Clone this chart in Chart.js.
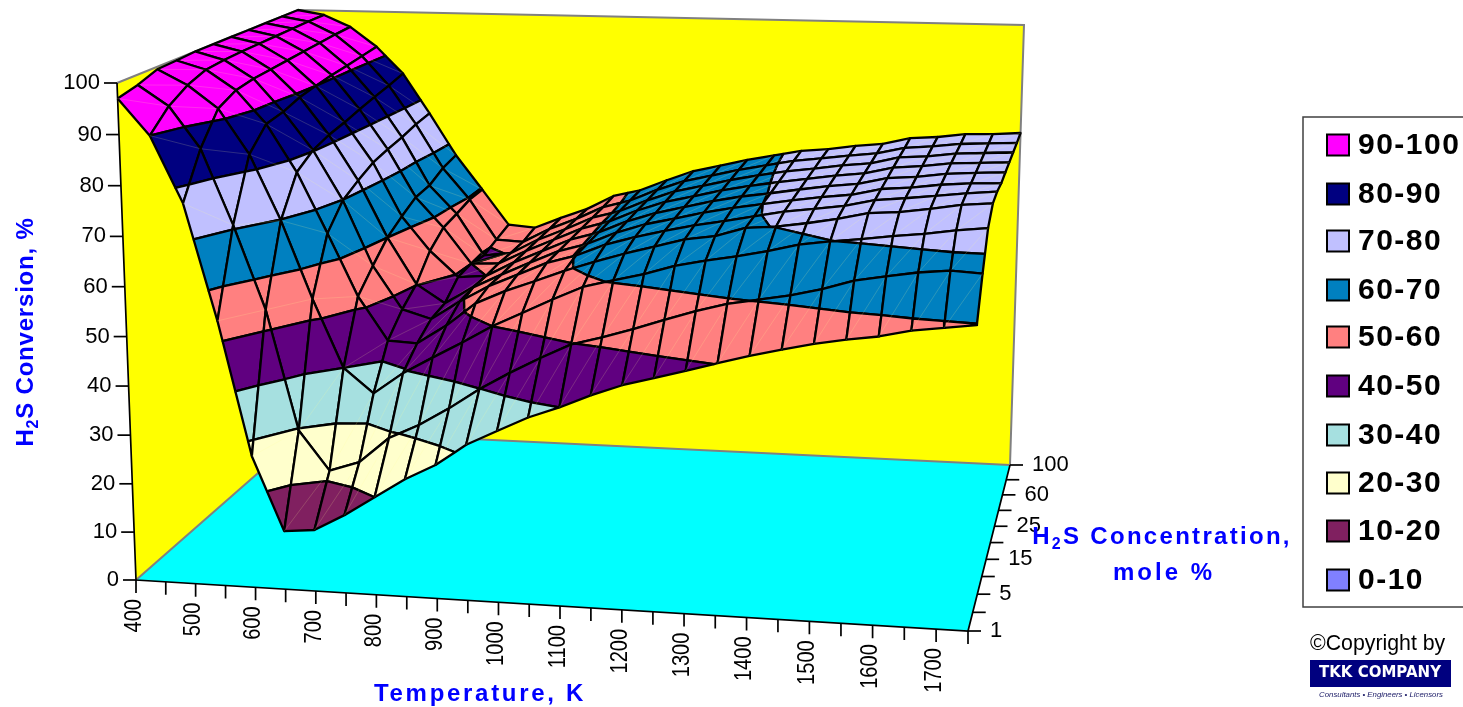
<!DOCTYPE html>
<html>
<head>
<meta charset="utf-8">
<title>H2S Conversion</title>
<script src="https://cdn.jsdelivr.net/npm/chart.js@4"></script>
<style>
  html, body { margin: 0; background: #fff; }
  canvas { display: block; }
</style>
</head>
<body>
<canvas id="surface-chart" width="1463" height="707"></canvas>
<script>
// category axes
const temperatures = [400,450,500,550,600,650,700,750,800,850,900,950,1000,1050,1100,1150,1200,1250,1300,1350,1400,1450,1500,1550,1600,1650,1700,1750];
const concentrations = [1,3,5,10,15,20,25,40,60,80,100];
const conversionTicks = [0,10,20,30,40,50,60,70,80,90,100];

// H2S conversion (%) at each temperature, one list per concentration
const conc1 = [97,90,77,54,27,12,12.6,16,20,24,27.2,31.6,34.7,37.7,40,42.7,45,46.7,48.4,50.2,51.9,53.4,54.8,55.9,56.8,58.2,59,59.8];
const conc3 = [98,94,85.8,70.8,54,29.6,21.6,23.7,29,32,35.7,39.9,43.5,46.8,49.8,51.5,53.4,55.5,57.5,59.2,60.3,61.4,62.9,64.8,65.9,66.9,67.5,67.2];
const conc5 = [99.5,96.5,92,83,69.8,54,40,35,39.5,43,46.4,50,53,56,58.8,60.4,61.9,63.8,65.1,66.2,67.5,69,69.9,70.6,71.4,72.1,73,73.7];
const conc10 = [99.7,98,94,87.3,77.6,65.2,52.3,43.3,43,47,51.9,54.7,57,59.4,61.5,63.4,65.1,66.8,67.7,69.6,70.1,71,72.1,73.5,73.9,74.8,75.8,76.3];
const conc15 = [100,98.4,94.7,88,80.2,69.9,56.3,47.3,45.5,49.5,53,55.7,58.4,60.2,62.7,64.5,66,67.4,68.5,69.7,70.9,71.7,72.5,73.9,74.5,75.2,75.9,76.5];
const conc20 = [100,98.6,95,89.3,81.5,72,60,50.2,46.3,50,53,55.8,58.5,60.3,62.9,64.9,66.3,67.8,69,70,71,71.9,72.6,74,74.5,75.3,75.8,76];
const conc25 = [100,98.7,95.3,90,82.3,73.8,62.3,55,49.5,50,53.2,55.9,58.6,60.4,63,65,66.5,68,69.2,70.1,71.1,72,72.7,74.1,74.6,75.4,75.8,76.1];
const conc40 = [100,98.8,95.6,90.6,83.3,74.7,64.3,57.8,50,50.3,53.3,56,58.7,60.5,63.1,65.2,66.6,68.1,69.3,70.3,71.2,72.1,72.8,74.2,74.7,75.5,75.8,76.1];
const conc60 = [100,98.9,95.9,91,84.2,75.4,64.8,58.6,49.4,50.2,53.4,56,58.8,60.5,63.1,65.3,66.7,68.2,69.4,70.5,71.3,72.2,72.8,74.3,74.7,75.5,75.8,76.1];
const conc80 = [100,99,96.2,91.5,85,76.4,66.6,59.6,50.6,50.3,53.5,56,58.9,60.6,63.2,65.4,66.8,68.3,69.5,70.7,71.4,72.2,72.9,74.3,74.8,75.5,75.8,76.1];
const conc100 = [100,99,96.4,92,86,77,67.5,59.7,51.7,51.2,53.7,56,59.2,60.7,63.2,65.5,66.9,68.4,69.6,70.8,71.4,72.3,72.9,74.4,74.8,75.6,75.8,76.2];
const conversion = [conc1,conc3,conc5,conc10,conc15,conc20,conc25,conc40,conc60,conc80,conc100];

// legend bands, top to bottom
const bandLabels = ['90-100','80-90','70-80','60-70','50-60','40-50','30-40','20-30','10-20','0-10'];
const bandLows = [90,80,70,60,50,40,30,20,10,0];
const bandColors = ['#FF00FF','#000080','#C0C0FF','#0080C0','#FF8080','#600080','#A6E0E0','#FFFFCC','#802060','#8080FF'];

// where the corners of the 3D box land on the page
const boxFloor = { a: [136,580], b: [968,631], c: [1010,465], d: [306,431] };
const boxTop = { a: [117,83], b: [983,111], c: [1024,25], d: [298,10] };
const PERSPECTIVE_T = 0.965, PERSPECTIVE_C = 1.14, PERSPECTIVE_Z = 0.96;

const warp = (s, k) => s * k / (1 + (k - 1) * s);
const mix = (p, q, s) => [p[0] + (q[0] - p[0]) * s, p[1] + (q[1] - p[1]) * s];

// temperature index, concentration index, conversion -> page x/y
function project(ti, ci, z) {
  const u = warp(ti / (temperatures.length - 1), PERSPECTIVE_T);
  const t = warp(ci / (concentrations.length - 1), PERSPECTIVE_C);
  const w = warp(z / 100, PERSPECTIVE_Z);
  const low = mix(mix(boxFloor.a, boxFloor.b, u), mix(boxFloor.d, boxFloor.c, u), t);
  const high = mix(mix(boxTop.a, boxTop.b, u), mix(boxTop.d, boxTop.c, u), t);
  const p = mix(low, high, w);
  return { x: p[0], y: p[1] };
}

function clipBelow(poly, limit, keepAbove) {
  const out = [];
  for (let n = 0; n < poly.length; n++) {
    const p = poly[n], q = poly[(n + 1) % poly.length];
    const pIn = keepAbove ? p.z >= limit : p.z <= limit;
    const qIn = keepAbove ? q.z >= limit : q.z <= limit;
    if (pIn) out.push(p);
    if (pIn !== qIn) {
      const s = (limit - p.z) / (q.z - p.z);
      out.push({ ti: p.ti + (q.ti - p.ti) * s, ci: p.ci + (q.ci - p.ci) * s, z: limit });
    }
  }
  return out;
}

const toPage = (poly) => {
  const pts = poly.map(p => project(p.ti, p.ci, p.z));
  pts.push(pts[0]);
  return pts;
};

const shapeDataset = (data, color, border = 'rgba(0,0,0,0)', width = 0) => ({
  data, showLine: true, fill: 'shape', backgroundColor: color,
  borderColor: border, borderWidth: width, pointRadius: 0, borderJoinStyle: 'round'
});
const lineDataset = (data, color, width) => ({
  data, showLine: true, fill: false, borderColor: color, borderWidth: width, pointRadius: 0
});

// Chart.js paints the first dataset last, so build back to front and reverse at the end
const painted = [];
const lastT = temperatures.length - 1, lastC = concentrations.length - 1;
const corner = (ti, ci, z) => project(ti, ci, z);

painted.push(shapeDataset([corner(0,0,0),corner(0,lastC,0),corner(0,lastC,100),corner(0,0,100),corner(0,0,0)], '#FFFF00'));
painted.push(shapeDataset([corner(0,lastC,0),corner(lastT,lastC,0),corner(lastT,lastC,100),corner(0,lastC,100),corner(0,lastC,0)], '#FFFF00'));
painted.push(shapeDataset([corner(0,0,0),corner(lastT,0,0),corner(lastT,lastC,0),corner(0,lastC,0),corner(0,0,0)], '#00FFFF'));
painted.push(lineDataset([corner(0,0,100),corner(0,lastC,100),corner(lastT,lastC,100),corner(lastT,lastC,0)], '#808080', 2));
painted.push(lineDataset([corner(0,0,0),corner(0,lastC,0),corner(lastT,lastC,0)], '#808080', 2));
painted.push(lineDataset([corner(0,0,100),corner(0,0,0),corner(lastT,0,0),corner(lastT,lastC,0)], '#000000', 1.7));

// axis tick marks
const tickLength = 13;
conversionTicks.forEach(z => {
  const p = project(0, 0, z);
  painted.push(lineDataset([p, { x: p.x - tickLength, y: p.y }], '#000000', 1.7));
});
temperatures.forEach((_, ti) => {
  const p = project(ti, 0, 0);
  painted.push(lineDataset([p, { x: p.x, y: p.y + tickLength }], '#000000', 1.7));
});
concentrations.forEach((_, ci) => {
  const p = project(lastT, ci, 0);
  painted.push(lineDataset([p, { x: p.x + tickLength, y: p.y }], '#000000', 1.7));
});

// surface cells, far rows first, one shape for each colour band in a cell
for (let ci = lastC - 1; ci >= 0; ci--) {
  for (let ti = 0; ti < lastT; ti++) {
    const cell = [
      { ti, ci, z: conversion[ci][ti] },
      { ti: ti + 1, ci, z: conversion[ci][ti + 1] },
      { ti: ti + 1, ci: ci + 1, z: conversion[ci + 1][ti + 1] },
      { ti, ci: ci + 1, z: conversion[ci + 1][ti] }
    ];
    bandLows.forEach((low, b) => {
      let piece = clipBelow(cell, low, true);
      if (piece.length) piece = clipBelow(piece, low + 10, false);
      if (piece.length >= 3) painted.push(shapeDataset(toPage(piece), bandColors[b], '#000000', 2.3));
    });
    // the faint seam across each cell
    painted.push(lineDataset([project(ti, ci, cell[0].z), project(ti + 1, ci + 1, cell[2].z)], 'rgba(255,255,150,0.22)', 0.8));
  }
}

function drawSubText(ctx, parts, x, y, size, align) {
  // parts: [text, isSubscript]; x/y is the baseline anchor
  const widths = parts.map(([text, sub]) => {
    ctx.font = `bold ${sub ? Math.round(size * 0.66) : size}px "Liberation Sans"`;
    return ctx.measureText(text).width;
  });
  const total = widths.reduce((a, b) => a + b, 0);
  let cx = align === 'center' ? x - total / 2 : x;
  parts.forEach(([text, sub], n) => {
    ctx.font = `bold ${sub ? Math.round(size * 0.66) : size}px "Liberation Sans"`;
    ctx.fillText(text, cx, sub ? y + size * 0.2 : y);
    cx += widths[n];
  });
}

const chartText = {
  id: 'chartText',
  afterDraw(chart) {
    const { ctx } = chart;
    ctx.save();
    ctx.fillStyle = '#000000';
    ctx.textBaseline = 'middle';

    // conversion axis
    ctx.font = '22px "Liberation Sans"';
    ctx.textAlign = 'right';
    conversionTicks.forEach(z => {
      const p = project(0, 0, z);
      ctx.fillText(String(z), p.x - tickLength - 4, p.y);
    });

    // concentration axis, every second category
    ctx.textAlign = 'left';
    concentrations.forEach((c, ci) => {
      if (ci % 2) return;
      const p = project(lastT, ci, 0);
      ctx.fillText(String(c), p.x + tickLength + 9, p.y);
    });

    // temperature axis, every second category, turned upright and a bit narrower
    ctx.textAlign = 'right';
    ctx.font = '24.5px "Liberation Sans"';
    temperatures.forEach((T, ti) => {
      if (ti % 2) return;
      const p = project(ti, 0, 0);
      ctx.save();
      ctx.translate(p.x - 2, p.y + tickLength + 6);
      ctx.rotate(-Math.PI / 2);
      ctx.scale(0.82, 1);
      ctx.fillText(String(T), 0, 0);
      ctx.restore();
    });

    // axis titles
    ctx.fillStyle = '#0000FF';
    ctx.textAlign = 'left';
    ctx.textBaseline = 'alphabetic';
    ctx.letterSpacing = '0.8px';
    ctx.save();
    ctx.translate(33, 332);
    ctx.rotate(-Math.PI / 2);
    drawSubText(ctx, [['H', false], ['2', true], ['S Conversion, %', false]], 0, 0, 24, 'center');
    ctx.restore();
    ctx.letterSpacing = '2.7px';
    drawSubText(ctx, [['Temperature, K', false]], 480, 701, 24, 'center');
    ctx.letterSpacing = '2.3px';
    drawSubText(ctx, [['H', false], ['2', true], ['S Concentration,', false]], 1162, 544, 24, 'center');
    ctx.letterSpacing = '3px';
    drawSubText(ctx, [['mole %', false]], 1164, 580, 24, 'center');

    // legend
    ctx.letterSpacing = '0px';
    ctx.lineWidth = 1.5;
    ctx.strokeStyle = '#404040';
    ctx.strokeRect(1303, 117, 170, 490);
    ctx.textBaseline = 'middle';
    ctx.font = 'bold 30px "Liberation Sans"';
    ctx.letterSpacing = '1.5px';
    const legendRows = [145,194,241,290,337,386,435,483,531,580];
    bandLabels.forEach((label, n) => {
      ctx.fillStyle = bandColors[n];
      ctx.fillRect(1327, legendRows[n] - 10.5, 22, 21);
      ctx.strokeStyle = '#000000';
      ctx.lineWidth = 2;
      ctx.strokeRect(1327, legendRows[n] - 10.5, 22, 21);
      ctx.fillStyle = '#000000';
      ctx.fillText(label, 1358, legendRows[n] + 1);
    });

    // copyright block
    ctx.letterSpacing = '0px';
    ctx.font = '21.3px "Liberation Sans"';
    ctx.fillText('\u00A9Copyright by', 1310, 644);
    ctx.fillStyle = '#00007F';
    ctx.fillRect(1310, 660, 141, 27);
    ctx.fillStyle = '#FFFFFF';
    ctx.textAlign = 'center';
    ctx.font = 'bold 15px "DejaVu Sans"';
    ctx.fillText('TKK COMPANY', 1380, 673);
    ctx.fillStyle = '#1A1A66';
    ctx.font = 'italic 7.8px "Liberation Sans"';
    ctx.fillText('Consultants \u2022 Engineers \u2022 Licensors', 1381, 695);
    ctx.restore();
  }
};

new Chart(document.getElementById('surface-chart'), {
  type: 'scatter',
  data: { datasets: painted.reverse() },
  options: {
    responsive: false,
    animation: false,
    events: [],
    layout: { padding: 0 },
    plugins: { legend: { display: false }, tooltip: { enabled: false } },
    scales: {
      x: { type: 'linear', display: false, min: 0, max: 1463 },
      y: { type: 'linear', display: false, min: 0, max: 707, reverse: true }
    }
  },
  plugins: [chartText]
});
</script>
</body>
</html>
